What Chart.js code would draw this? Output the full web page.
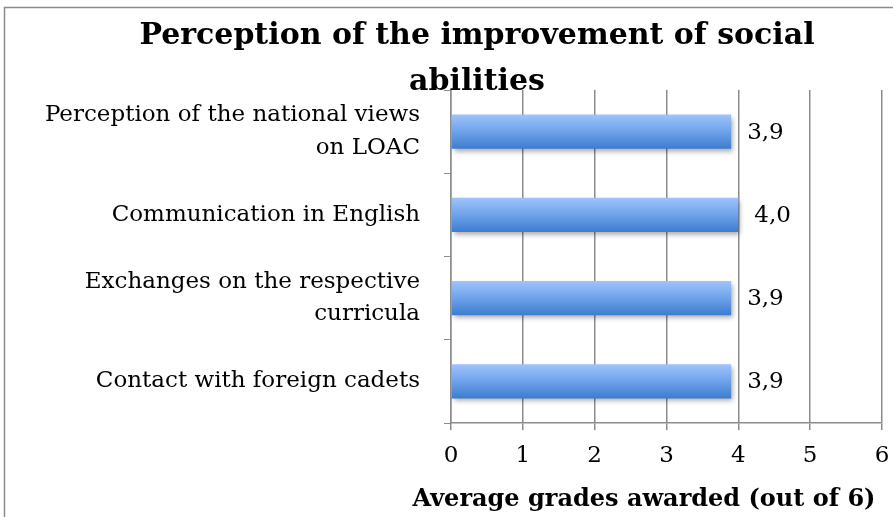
<!DOCTYPE html>
<html>
<head>
<meta charset="utf-8">
<script src="https://cdn.jsdelivr.net/npm/chart.js@4"></script>
<style>
  html, body { margin: 0; padding: 0; background: #fff; }
  #wrap { width: 893px; height: 517px; }
</style>
</head>
<body>
<div id="wrap"><canvas id="myChart" width="893" height="517"></canvas></div>
<script>
'use strict';

let titleLines = ['Perception of the improvement of social', 'abilities'];
let categories = [
    ['Perception of the national views', 'on LOAC'],
    'Communication in English',
    ['Exchanges on the respective', 'curricula'],
    'Contact with foreign cadets'
];
let grades = [3.9, 4.0, 3.9, 3.9];
let xTicks = [0, 1, 2, 3, 4, 5, 6];
let xTitle = 'Average grades awarded (out of 6)';

let serif = "'DejaVu Serif', 'Liberation Serif', serif";

// frame, chart title and axis title drawn by hand (positions as in the original)
let framePlugin = {
    id: 'frame',
    beforeDraw(chart) {
        let ctx = chart.ctx;
        ctx.save();
        ctx.strokeStyle = '#8c8c8c';
        ctx.lineWidth = 1.5;
        ctx.beginPath();
        ctx.moveTo(4.5, 520);
        ctx.lineTo(4.5, 7.5);
        ctx.lineTo(900, 7.5);
        ctx.stroke();
        ctx.restore();
    },
    afterDraw(chart) {
        let ctx = chart.ctx;
        ctx.save();
        ctx.fillStyle = '#000';
        ctx.font = 'bold 30px ' + serif;
        ctx.textAlign = 'center';
        ctx.textBaseline = 'alphabetic';
        ctx.fillText(titleLines[0], 477, 44);
        ctx.fillText(titleLines[1], 477, 90);
        ctx.font = 'bold 24px ' + serif;
        ctx.fillText(xTitle, 644, 506);
        ctx.restore();
    }
};

// gradient + shadow on the bars, value labels after them
let barPlugin = {
    id: 'bars',
    beforeDatasetsDraw(chart) {
        let ctx = chart.ctx;
        let meta = chart.getDatasetMeta(0);
        meta.data.forEach(bar => {
            let h = bar.height;
            let g = ctx.createLinearGradient(0, bar.y - h / 2, 0, bar.y + h / 2);
            g.addColorStop(0, '#9ec4fa');
            g.addColorStop(0.5, '#6fa2ea');
            g.addColorStop(1, '#3c7cce');
            // options are shared between bars, give each its own copy
            bar.options = Object.assign({}, bar.options, { backgroundColor: g });
        });
        ctx.save();
        ctx.shadowColor = 'rgba(0,0,0,0.35)';
        ctx.shadowBlur = 5;
        ctx.shadowOffsetX = 2;
        ctx.shadowOffsetY = 3;
    },
    afterDatasetsDraw(chart) {
        let ctx = chart.ctx;
        ctx.restore();
        let meta = chart.getDatasetMeta(0);
        ctx.save();
        ctx.fillStyle = '#000';
        ctx.font = '23px ' + serif;
        ctx.textAlign = 'left';
        ctx.textBaseline = 'middle';
        meta.data.forEach((bar, i) => {
            ctx.fillText(grades[i].toFixed(1).replace('.', ','), bar.x + 16, bar.y + 1);
        });
        ctx.restore();
    }
};

let chartEl = document.getElementById('myChart').getContext('2d');
let myChart = new Chart(chartEl, {
    type: 'bar',
    data: {
        labels: categories,
        datasets: [{
            data: grades,
            backgroundColor: '#6fa2ea',
            borderWidth: 0,
            barPercentage: 0.41,
            categoryPercentage: 1
        }]
    },
    options: {
        indexAxis: 'y',
        responsive: false,
        animation: false,
        layout: { padding: { top: 90, right: 11, left: 0, bottom: 0 } },
        plugins: {
            legend: { display: false },
            tooltip: { enabled: false },
            title: { display: false }
        },
        scales: {
            x: {
                min: xTicks[0],
                max: xTicks[xTicks.length - 1],
                afterBuildTicks: s => { s.ticks = xTicks.map(v => ({ value: v })); },
                afterFit: s => {
                    s.height = 94;
                    s.paddingLeft = 0;
                    s.paddingRight = 0;
                },
                grid: { color: '#8c8c8c', lineWidth: 1.5, drawTicks: true, tickLength: 7, tickColor: '#8c8c8c' },
                border: { color: '#8c8c8c', width: 1.5 },
                ticks: { color: '#000', font: { family: serif, size: 23 }, padding: 12 },
                title: { display: false }
            },
            y: {
                afterFit: s => {
                    s.width = 451;
                    s.paddingTop = 0;
                    s.paddingBottom = 0;
                },
                grid: { drawOnChartArea: false, drawTicks: true, tickLength: 7, tickColor: '#8c8c8c', offset: true },
                border: { color: '#8c8c8c', width: 1.5 },
                ticks: { color: '#000', font: { family: serif, size: 23, lineHeight: 1.4 }, padding: 24 }
            }
        }
    },
    plugins: [framePlugin, barPlugin]
});
</script>
</body>
</html>
